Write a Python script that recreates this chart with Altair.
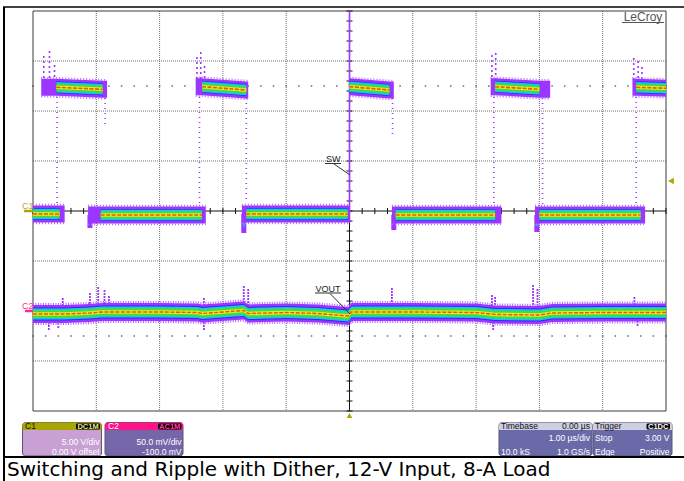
import altair as alt
import numpy as np
import pandas as pd

# ---------------- acquisition settings (read-out panels) ----------------
C1_V_PER_DIV = 5.0
C1_OFFSET_V = 0.0
C2_MV_PER_DIV = 50.0
C2_OFFSET_MV = -100.0
TRIG_LEVEL_V = 3.0

# ---------------- C1 : switch node, volts; time in µs from trigger ----------------
hi_outer_start = [-4.87, -2.43, 0.00, 2.23, 4.47]
hi_core_start = [-4.63, -2.33, 0.00, 2.30, 4.53]
hi_core_end = [-3.90, -1.63, 0.63, 3.00, 5.00]
hi_outer_end = [-3.83, -1.60, 0.70, 3.17, 5.00]
hi_v_start = [12.37, 12.43, 12.43, 12.43, 12.37]
hi_v_end = [12.17, 12.10, 12.10, 12.17, 12.27]

lo_outer_start = [-5.00, -4.13, -1.70, 0.67, 2.93]
lo_core_start = [-5.00, -3.93, -1.63, 0.73, 3.00]
lo_core_end = [-4.58, -2.33, -0.03, 2.30, 4.60]
lo_outer_end = [-4.50, -2.27, 0.00, 2.40, 4.67]
lo_v = [-0.3, -0.4, -0.3, -0.4, -0.4]

# ringing dip right after each falling edge
ring_t = [-4.10, -1.67, 0.70, 2.96]
ring_v = [-1.7, -2.2, -1.9, -2.1]

# dithered edges caught by the persistence display
edge_t = [-4.62, -2.37, 2.28, 4.53, -3.86, -1.63, 0.68, 3.05]
edge_v_top = [11.4, 11.4, 11.4, 11.4, 11.3, 11.3, 11.3, 11.3]
edge_v_bot = [0.6, 0.6, 0.6, 0.6, 8.5, 0.8, 7.6, 0.6]

# overshoot speckle above the rising edges
over_t = [-4.83, -4.74, -4.66, -2.41, -2.35, -2.29, 2.25, 2.31, 4.49, 4.56, 4.62]
over_v = [15.5, 16.0, 14.6, 15.4, 15.9, 14.5, 15.6, 15.8, 15.3, 15.0, 14.4]

# ---------------- C2 : output ripple, mV (AC coupled) ----------------
vout_t = [-5.0, -4.5, -4.1, -3.9, -3.0, -2.4, -2.33, -1.67, -1.6, -1.0,
          -0.5, -0.02, 0.03, 1.0, 2.0, 2.3, 3.0, 3.2, 4.0, 5.0]
vout_mv = [-3, -3, -2, -1, -1, -1.5, -2.5, 0.5, -2.5, -1.5,
           -2.5, -5, -1, -1, -1.5, -3.5, -4, -2, -1.5, -1.5]
vout_spike_t = [-4.10, -3.97, -3.87, -3.80, -4.53, -2.30, -1.67, -1.60, 0.67, 2.25, 2.30, 2.90, 2.97, 4.50]
vout_spike_mv = [18, 24, 21, 15, 13, 13, 25, 22, 23, 16, 14, 26, 22, 14]
vout_dip_t = [-4.75, -4.60, -2.30, 2.27, 4.55]
vout_dip_mv = [-19, -17, -19, -19, -15]

# ---------------- read-out text ----------------
c1_rows = ["5.00 V/div", "0.00 V offset"]
c2_rows = ["50.0 mV/div", "-100.0 mV"]
tb_head = ["Timebase", "0.00 µs"]
tb_rows = [("", "1.00 µs/div"), ("10.0 kS", "1.0 GS/s")]
trig_rows = [("Stop", "3.00 V"), ("Edge", "Positive")]
caption = "Switching and Ripple with Dither, 12-V Input, 8-A Load"

# ---------------- page geometry ----------------
OX, OY = 33, 11          # top-left of the graticule on the page
W, H = 633, 400          # 10 x 8 divisions
PX_PER_DIV_Y = H / 8.0
UI_FONT = "Liberation Sans"
PURPLE = "#9b35ff"
FRINGE = "#b066ff"
OLIVE = "#b0a400"
PINK = "#ff2a90"

XS = alt.Scale(domain=[-5, 5], nice=False, zero=False)
YS = alt.Scale(domain=[-4, 4], nice=False, zero=False)
one = pd.DataFrame({"k": [0]})


def c1_div(v):
    return (v + C1_OFFSET_V) / C1_V_PER_DIV


def c2_div(mv):
    return (mv + C2_OFFSET_MV) / C2_MV_PER_DIV


def P(x):
    return alt.value(x - OX)


def Q(y):
    return alt.value(y - OY)


def X(field="t"):
    return alt.X(f"{field}:Q", scale=XS, axis=None)


def Y(field):
    return alt.Y(f"{field}:Q", scale=YS, axis=None)


def text(txt, x, y, size=8.5, color="white", align="left", weight="normal", font=UI_FONT):
    return alt.Chart(one).mark_text(text=txt, align=align, baseline="alphabetic", fontSize=size,
                                    font=font, color=color, fontWeight=weight).encode(x=P(x), y=Q(y))


def box(x0, y0, x1, y1, fill, stroke="", sw=1.0, **corners):
    kw = dict(fill=fill, **corners)
    if stroke:
        kw.update(stroke=stroke, strokeWidth=sw)
    else:
        kw.update(strokeWidth=0)
    return alt.Chart(one).mark_rect(**kw).encode(x=P(x0), x2=P(x1), y=Q(y0), y2=Q(y1))


def line(x0, y0, x1, y1, color, w=1.0, dash=()):
    kw = dict(color=color, strokeWidth=w)
    if dash:
        kw["strokeDash"] = list(dash)
    return alt.Chart(one).mark_rule(**kw).encode(x=P(x0), x2=P(x1), y=Q(y0), y2=Q(y1))


layers = []

# ---------------- graticule ----------------
grid_t = pd.DataFrame({"t": [-4, -3, -2, -1, 1, 2, 3, 4]})
grid_v = pd.DataFrame({"v": [-3, -2, -1, 1, 2, 3]})
layers.append(alt.Chart(grid_t).mark_rule(color="#6e6e6e", strokeWidth=1, strokeDash=[1, 1]).encode(
    x=X(), y=alt.value(0), y2=alt.value(H)))
layers.append(alt.Chart(grid_v).mark_rule(color="#6e6e6e", strokeWidth=1, strokeDash=[1, 1]).encode(
    y=Y("v"), x=alt.value(0), x2=alt.value(W)))

minor_t = np.round(np.arange(-5, 5.0001, 0.2), 2)
minor_v = np.round(np.arange(-4, 4.0001, 0.2), 2)
half_rows = pd.DataFrame([{"t": t, "v": v} for v in (-2.5, 2.5) for t in minor_t])
layers.append(alt.Chart(half_rows).mark_square(color="#666666", size=2.2, opacity=1).encode(x=X(), y=Y("v")))

layers.append(alt.Chart(one).mark_rect(fillOpacity=0, stroke="#3a3a3a", strokeWidth=1).encode(
    x=alt.value(0), x2=alt.value(W), y=alt.value(0), y2=alt.value(H)))
layers.append(alt.Chart(one).mark_rule(color="#111111", strokeWidth=1).encode(
    x=alt.value(W / 2), y=alt.value(0), y2=alt.value(H)))
layers.append(alt.Chart(one).mark_rule(color="#111111", strokeWidth=1).encode(
    y=alt.value(H / 2), x=alt.value(0), x2=alt.value(W)))
layers.append(alt.Chart(pd.DataFrame({"t": minor_t})).mark_rule(color="#111111", strokeWidth=1).encode(
    x=X(), y=alt.value(H / 2 - 3), y2=alt.value(H / 2 + 3)))
layers.append(alt.Chart(pd.DataFrame({"v": minor_v})).mark_rule(color="#111111", strokeWidth=1).encode(
    y=Y("v"), x=alt.value(W / 2 - 3), x2=alt.value(W / 2 + 3)))

# ---------------- C1 edges, drawn under the bands ----------------
edges = pd.DataFrame({"t": edge_t, "top": [c1_div(v) for v in edge_v_top],
                      "bot": [c1_div(v) for v in edge_v_bot]})
layers.append(alt.Chart(edges).mark_rule(color=PURPLE, strokeWidth=1.6, strokeDash=[1, 4]).encode(
    x=X(), y=Y("top"), y2="bot:Q"))
over = pd.DataFrame({"t": over_t, "top": [c1_div(v) for v in over_v],
                     "bot": [c1_div(12.4)] * len(over_t)})
layers.append(alt.Chart(over).mark_rule(color=PURPLE, strokeWidth=1.6, strokeDash=[2, 3]).encode(
    x=X(), y=Y("top"), y2="bot:Q"))
trig_edge = pd.DataFrame({"t": [0.0], "top": [4.0], "bot": [c1_div(-1.2)]})
layers.append(alt.Chart(trig_edge).mark_rule(color=PURPLE, strokeWidth=1.6).encode(
    x=X(), y=Y("top"), y2="bot:Q"))
ring = pd.DataFrame({"t": ring_t, "top": [c1_div(lo_v[i + 1]) for i in range(len(ring_t))],
                     "bot": [c1_div(v) for v in ring_v],
                     "bot2": [c1_div(v + 0.6) for v in ring_v]})
layers.append(alt.Chart(ring).mark_rule(color=PURPLE, strokeWidth=5).encode(x=X(), y=Y("top"), y2="bot:Q"))
layers.append(alt.Chart(ring).mark_rule(color="#14c6e8", strokeWidth=1.6).encode(x=X(), y=Y("top"), y2="bot2:Q"))

# ---------------- persistence bands ----------------
# colour ramp, outermost first: (colour, half-width px on C1, half-width px on C2, covers dither zone)
RAMP = [
    ("#9b35ff", 8.5, 9.0, True),
    ("#3c22ff", 6.0, 6.6, False),
    ("#14c6e8", 5.2, 5.6, False),
    ("#3fdc4a", 3.7, 3.9, False),
    ("#dff01a", 1.8, 1.8, False),
]
CENTER = "#ff4a12"


def sw_polys(outer):
    polys = []
    for i in range(len(hi_core_start)):
        pts = [(hi_core_start[i], hi_v_start[i]), (hi_core_end[i], hi_v_end[i])]
        if outer:
            pts = [(hi_outer_start[i], hi_v_start[i])] + pts + [(hi_outer_end[i], hi_v_end[i])]
        polys.append((f"hi{i}", pts))
    for i in range(len(lo_core_start)):
        pts = [(lo_core_start[i], lo_v[i]), (lo_core_end[i], lo_v[i])]
        if outer:
            pts = [(lo_outer_start[i], lo_v[i])] + pts + [(lo_outer_end[i], lo_v[i])]
        polys.append((f"lo{i}", pts))
    return polys


def band_frame(polys, half_px, to_div):
    rows = []
    for key, pts in polys:
        for t, val in pts:
            c = to_div(val)
            rows.append({"key": key, "t": t, "lo": c - half_px / PX_PER_DIV_Y, "hi": c + half_px / PX_PER_DIV_Y})
    return pd.DataFrame(rows)


def offset_frame(polys, offsets_px, to_div):
    rows = []
    for key, pts in polys:
        for k, off in enumerate(offsets_px):
            for t, val in pts:
                rows.append({"key": f"{key}_{k}", "t": t, "y": to_div(val) + off / PX_PER_DIV_Y})
    return pd.DataFrame(rows)


def area(df, color):
    return alt.Chart(df).mark_area(color=color, opacity=1, interpolate="linear").encode(
        x=X(), y=Y("lo"), y2="hi:Q", detail="key:N")


def trace_lines(df, color, width, dash):
    return alt.Chart(df).mark_line(color=color, strokeWidth=width, strokeDash=dash).encode(
        x=X(), y=Y("y"), detail="key:N")


# C1 bands
layers.append(trace_lines(offset_frame(sw_polys(True), [-9.4, 9.4], c1_div), FRINGE, 1.8, [1, 2]))
for color, w_sw, w_c2, outer in RAMP:
    layers.append(area(band_frame(sw_polys(outer), w_sw, c1_div), color))
layers.append(trace_lines(offset_frame(sw_polys(False), [0.0], c1_div), CENTER, 1.6, [4, 1.5]))

# C2 band
spk = pd.DataFrame({"t": vout_spike_t + vout_dip_t,
                    "top": [c2_div(m) for m in vout_spike_mv + vout_dip_mv],
                    "bot": [c2_div(0)] * (len(vout_spike_t) + len(vout_dip_t))})
layers.append(alt.Chart(spk).mark_rule(color=PURPLE, strokeWidth=1.8, strokeDash=[2, 1]).encode(
    x=X(), y=Y("top"), y2="bot:Q"))
vout_poly = [("vout", list(zip(vout_t, vout_mv)))]
layers.append(trace_lines(offset_frame(vout_poly, [-10.0, 10.0], c2_div), FRINGE, 2.2, [1, 1.5]))
for color, w_sw, w_c2, outer in RAMP:
    layers.append(area(band_frame(vout_poly, w_c2, c2_div), color))
layers.append(trace_lines(offset_frame(vout_poly, [0.0], c2_div), CENTER, 1.4, [4, 1.5]))

# ---------------- trace labels ----------------
layers += [
    text("SW", 326, 162, size=9, color="#222222"),
    line(325, 163.5, 341, 163.5, "#333333", 1),
    line(334, 164, 350, 175, "#333333", 1),
    text("VOUT", 315.5, 291.5, size=9, color="#222222"),
    line(315, 293, 341, 293, "#333333", 1),
    line(330, 293.5, 350, 314, "#333333", 1),
]

# ---------------- channel and trigger markers ----------------
layers.append(text("C1", 22, 209, size=9, color="#b4a834"))
layers.append(alt.Chart(pd.DataFrame({"v": [c1_div(0)]})).mark_rule(color=OLIVE, strokeWidth=2.5).encode(
    x=P(24), x2=P(33), y=Y("v")))
layers.append(text("C2", 22, 309, size=9, color=PINK))
layers.append(alt.Chart(pd.DataFrame({"v": [c2_div(0)]})).mark_rule(color=PINK, strokeWidth=2.5).encode(
    x=P(25), x2=P(33), y=Y("v")))
layers.append(alt.Chart(pd.DataFrame({"v": [c1_div(TRIG_LEVEL_V)]})).mark_point(
    shape="triangle-left", filled=True, size=45, color=OLIVE, opacity=1).encode(x=P(671), y=Y("v")))
layers.append(alt.Chart(pd.DataFrame({"t": [0.0]})).mark_point(
    shape="triangle-up", filled=True, size=32, color=OLIVE, opacity=1).encode(x=X(), y=Q(415.5)))

# ---------------- logo ----------------
layers.append(text("LeCroy", 643, 20.5, size=12, color="#555555", align="center"))
layers.append(line(622, 22.5, 664, 22.5, "#555555", 1))

# ---------------- read-out panels ----------------
PANEL_EDGE = "#5a5478"
# C1
layers += [
    box(22.5, 422.5, 101.5, 456, "#c9a0d3", PANEL_EDGE, 1, cornerRadius=3),
    box(22.5, 422.5, 101.5, 430, "#aaa600", cornerRadiusTopLeft=3, cornerRadiusTopRight=3),
    text("C1", 25, 428.8, color="#111111"),
    box(76, 423.4, 100, 429.4, "#000000", cornerRadius=1.5),
    text("DC1M", 88, 428.6, size=7.5, color="#e2e29a", align="center", weight="bold"),
    text(c1_rows[0], 99.5, 444.5, align="right"),
    text(c1_rows[1], 99.5, 454.5, align="right"),
]
# C2
layers += [
    box(105, 422.5, 183, 456, "#7466a8", PANEL_EDGE, 1, cornerRadius=3),
    box(105, 422.5, 183, 430, "#ff1488", cornerRadiusTopLeft=3, cornerRadiusTopRight=3),
    text("C2", 108, 428.8, color="#ffffff"),
    box(158, 423.4, 181.5, 429.4, "#000000", cornerRadius=1.5),
    text("AC1M", 169.7, 428.6, size=7.5, color="#ff3aa0", align="center", weight="bold"),
    text(c2_rows[0], 181.5, 444.5, align="right"),
    text(c2_rows[1], 181.5, 454.5, align="right"),
]
# Timebase
layers += [
    box(499, 422.5, 592, 456, "#6a6aa8", PANEL_EDGE, 1, cornerRadius=3),
    box(499, 422.5, 592, 430, "#cfcfe2", cornerRadiusTopLeft=3, cornerRadiusTopRight=3),
    text(tb_head[0], 501, 428.8, color="#111111"),
    text(tb_head[1], 590, 428.8, color="#111111", align="right"),
    text(tb_rows[0][1], 590, 441, align="right"),
    text(tb_rows[1][0], 501, 454.5),
    text(tb_rows[1][1], 590, 454.5, align="right"),
]
# Trigger
layers += [
    box(593, 422.5, 672, 456, "#6a6aa8", PANEL_EDGE, 1, cornerRadius=3),
    box(593, 422.5, 672, 430, "#cfcfe2", cornerRadiusTopLeft=3, cornerRadiusTopRight=3),
    text("Trigger", 595, 428.8, color="#111111"),
    box(646.5, 423.4, 670, 429.4, "#000000", cornerRadius=1.5),
    text("C1DC", 658.2, 428.6, size=7.5, color="#ffffff", align="center", weight="bold"),
    text(trig_rows[0][0], 595, 441),
    text(trig_rows[0][1], 669.5, 441, align="right"),
    text(trig_rows[1][0], 595, 454.5),
    text(trig_rows[1][1], 669.5, 454.5, align="right"),
]

# ---------------- frame and caption ----------------
layers += [
    line(4, 7, 4, 481, "#000000", 2),
    line(3, 7, 684, 7, "#000000", 1.6),
    line(3, 457, 684, 457, "#000000", 2),
    text(caption, 7, 476, size=20, color="#000000", font="DejaVu Sans"),
]

chart = alt.layer(*layers).properties(
    width=W,
    height=H,
    padding={"left": OX, "top": OY, "right": 684 - OX - W, "bottom": 481 - OY - H},
    autosize=alt.AutoSizeParams(type="none"),
    background="white",
).configure_view(strokeWidth=0)

chart.save("out.html", embed_options={"renderer": "svg", "actions": False})
